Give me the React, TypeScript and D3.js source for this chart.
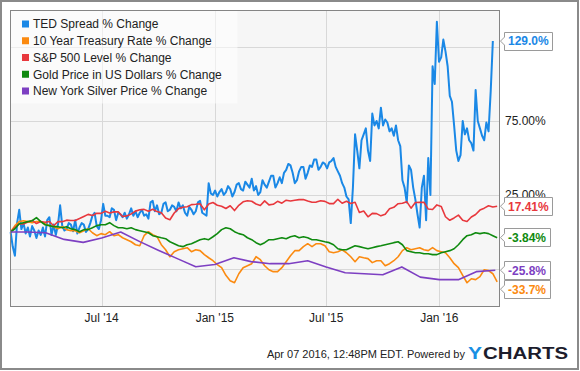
import React, { useEffect, useRef } from 'react';
import * as d3 from 'd3';

// weekly readings, first week starts Mon Feb 3 2014
const weekStart = new Date(2014, 1, 3);

// TED spread read twice a week (every 3.5 days) because it is so jumpy
const tedSpread = [
  0, -10, -16, 6, 15, 2, 6, -1, 3, -3,
  4, 1, -4, 1, -2, 3, -3, 8, 10, -2,
  5, -2, 5, 18, 4, 1, 2, 6, 5, 0.5,
  8, -1, 3, 6, 5, 0, 2, 6, 11, 13,
  4, 2, 8, 19, 11, 11, 10, 16, 15, 8,
  13, 12, 10, 13, 9, 12, 16, 11, 14, 10,
  13, 15, 11, 12, 9, 20, 21, 14, 18, 12,
  13, 19, 20, 14, 15, 18, 17, 14, 20, 16,
  18, 13, 11, 17, 15, 12, 14, 20, 21, 13,
  12, 11, 33, 26, 25, 28, 24, 27, 29, 25,
  27, 31, 29, 24, 27, 32, 33, 29, 28, 34,
  32, 30, 36, 28, 31, 25, 27, 35, 32, 30,
  34, 38, 38, 30, 33, 37, 33, 40, 42, 46,
  45, 40, 33, 35, 41, 44, 44, 36, 40, 45,
  44, 49, 49, 42, 44, 47, 46, 43, 47, 48,
  50, 44, 41, 38, 33, 30, 24, 22, 6, 30,
  66, 55, 43, 62, 66, 70, 55, 48, 80, 72,
  75, 70, 84, 72, 76, 74, 68, 70, 65, 72,
  62, 58, 35, 30, 20, 45, 42, 30, 22, 12,
  3, 30, 38, 8, 50, 25, 112, 100, 142, 115,
  118, 130, 122, 112, 92, 88, 72, 55, 48, 52,
  75, 66, 70, 62, 60, 55, 96, 75, 70, 65,
  62, 74, 68, 95, 129.0,
];

const treasury10y = [
  0, 4.3, 7.0, 7.6, 7.0, 6.3, 7.0, 7.0, 5.6, 4.3,
  3.6, 2.2, 3.6, 1.6, 0.9, 0.9, -0.5, 0.9, 2.2, -0.5,
  -2.5, -1.1, -1.8, 0.2, -2.5, -1.8, -3.9, -5.2, -6.6, -8.6,
  -9.3, -2.5, 0.2, -1.8, -3.2, -8.6, -12.0, -16.7, -13.3, -12.0,
  -11.3, -10.6, -13.3, -12.0, -12.6, -15.3, -17.4, -19.4, -22.1, -24.1,
  -29.3, -32.9, -34.3, -28.2, -24.1, -22.8, -21.4, -16.7, -18.7, -22.8,
  -25.5, -26.8, -26.8, -24.1, -20.1, -16.0, -12.6, -12.6, -9.9, -7.9,
  -9.9, -7.9, -7.9, -9.3, -13.3, -14.0, -13.3, -12.0, -14.0, -16.7,
  -20.1, -16.7, -17.4, -18.0, -20.7, -19.4, -19.4, -22.8, -21.4, -19.4,
  -16.7, -12.6, -10.6, -12.0, -11.3, -10.6, -12.0, -12.6, -10.6, -12.6,
  -13.3, -14.0, -17.4, -21.4, -24.1, -29.3, -34.3, -31.6, -32.2, -30.2,
  -25.5, -26.1, -28.2, -33.7,
];

const sp500 = [
  0, 3.2, 5.5, 5.4, 6.7, 7.8, 5.7, 7.1, 6.6, 7.1,
  4.2, 7.0, 7.0, 8.0, 7.8, 7.8, 9.1, 10.5, 11.9, 11.1,
  12.7, 12.6, 14.0, 12.9, 13.6, 13.6, 10.5, 10.9, 12.2, 14.1,
  15.0, 15.3, 14.0, 15.4, 13.8, 13.0, 9.4, 8.3, 12.8, 15.8,
  16.7, 17.1, 18.5, 18.7, 19.1, 15.0, 18.9, 19.9, 18.1, 17.4,
  15.9, 17.7, 14.5, 18.0, 20.4, 21.1, 20.8, 18.9, 17.9, 21.0,
  18.3, 18.7, 20.7, 19.5, 21.5, 21.0, 21.5, 21.9, 22.0, 21.0,
  20.1, 20.2, 21.1, 20.7, 19.2, 19.2, 22.1, 19.4, 20.8, 19.3,
  20.1, 13.2, 14.2, 10.3, 12.6, 12.4, 10.9, 12.0, 15.7, 16.7,
  19.1, 19.4, 20.5, 16.1, 19.9, 20.0, 20.1, 15.5, 15.2, 18.3,
  17.3, 10.3, 7.9, 9.5, 11.4, 7.9, 7.1, 10.1, 11.8, 14.8,
  16.1, 17.7, 16.9, 17.41,
];

const gold = [
  0, 2.2, 5.6, 6.3, 7.0, 7.6, 9.7, 7.0, 4.9, 4.3,
  3.6, 3.6, 2.9, 3.6, 2.2, 1.6, 0.2, 1.6, 1.6, 2.9,
  4.3, 4.9, 4.9, 6.3, 4.3, 2.9, 2.9, 2.2, 2.9, 1.6,
  0.9, 0.2, -0.5, -2.5, -3.2, -3.9, -4.5, -6.6, -7.9, -9.3,
  -9.9, -8.6, -7.9, -6.6, -5.2, -4.5, -5.2, -3.2, -1.1, 1.6,
  2.9, 2.2, 0.2, -1.1, -1.8, -3.9, -5.2, -7.2, -8.6, -7.2,
  -5.2, -5.2, -4.5, -3.9, -4.5, -3.2, -2.5, -3.9, -3.2, -3.9,
  -5.2, -5.2, -5.9, -6.6, -7.2, -8.6, -11.3, -12.0, -12.0, -10.6,
  -9.3, -9.9, -10.6, -11.3, -10.6, -9.9, -9.3, -8.6, -7.9, -7.2,
  -6.6, -8.6, -12.6, -13.3, -14.0, -14.0, -14.7, -14.7, -15.3, -15.3,
  -14.0, -13.3, -12.6, -11.3, -8.6, -5.2, -2.5, -1.8, -0.5, -1.1,
  -0.5, -1.1, -2.5, -3.84,
];

// silver is monthly
const silverDates = [
  '2014-02-03', '2014-03-01', '2014-04-01', '2014-05-01', '2014-06-01', '2014-07-01',
  '2014-08-01', '2014-09-01', '2014-10-01', '2014-11-01', '2014-12-01', '2015-01-01',
  '2015-02-01', '2015-03-01', '2015-04-01', '2015-05-01', '2015-06-01', '2015-07-01',
  '2015-08-01', '2015-09-01', '2015-10-01', '2015-11-01', '2015-12-01', '2016-01-01',
  '2016-02-01', '2016-03-01', '2016-04-01',
];
const silver = [
  0, 0, -0.5, -5, -7, -4,
  0, -6.5, -12.3, -18, -23.5, -22,
  -17.4, -20, -21.4, -21.4, -19.4, -23.6,
  -27.5, -28.2, -28.9, -23.6, -30.5, -32.2,
  -32.2, -26.8, -25.8,
];

const seriesNames = [
  'TED Spread % Change',
  '10 Year Treasury Rate % Change',
  'S&P 500 Level % Change',
  'Gold Price in US Dollars % Change',
  'New York Silver Price % Change',
];
const seriesColors = ['#1a88e6', '#fb8a10', '#e8383d', '#0f8a0f', '#7d3fc2'];
const lastLabels = ['129.0%', '-33.7%', '17.41%', '-3.84%', '-25.8%'];

const yTicks = [-25, 25, 75, 125];
const xTicks = ['2014-07-01', '2015-01-01', '2015-07-01', '2016-01-01'];
const xTickLabels = ["Jul '14", "Jan '15", "Jul '15", "Jan '16"];

const parse = d3.timeParse('%Y-%m-%d');
const FONT = '"Liberation Sans", Arial, Helvetica, sans-serif';

export default function App() {
  const ref = useRef<SVGSVGElement>(null);

  useEffect(() => {
    drawChart();
  }, []);

  function drawChart() {
    const svg = d3.select(ref.current);
    svg.selectAll('*').remove();

    const left = 10, right = 499, top = 10, bottom = 306;

    const x = d3.scaleTime()
      .domain([new Date(2014, 1, 2), new Date(2016, 3, 7)])
      .range([left, right]);
    const y = d3.scaleLinear().domain([-50, 150]).range([bottom, top]);

    const stepped = (vals: number[], hours: number) =>
      vals.map((v, i) => ({ date: d3.timeHour.offset(weekStart, hours * i), value: v }));

    const series = [
      stepped(tedSpread, 84),
      stepped(treasury10y, 168),
      stepped(sp500, 168),
      stepped(gold, 168),
      silver.map((v, i) => ({ date: parse(silverDates[i]) as Date, value: v })),
    ];

    // outer frame
    svg.append('rect')
      .attr('x', 1).attr('y', 1).attr('width', 577).attr('height', 368)
      .attr('fill', '#fff').attr('stroke', '#8a8a8a').attr('stroke-width', 2);

    // plot background
    svg.append('rect')
      .attr('x', left).attr('y', top).attr('width', right - left).attr('height', bottom - top)
      .attr('fill', '#f6f6f6');

    // grid
    svg.append('g').selectAll('line').data(yTicks).enter().append('line')
      .attr('x1', left).attr('x2', right)
      .attr('y1', (d) => Math.round(y(d)) + 0.5).attr('y2', (d) => Math.round(y(d)) + 0.5)
      .attr('stroke', '#d8d8d8');
    svg.append('g').selectAll('line').data(xTicks).enter().append('line')
      .attr('x1', (d) => Math.round(x(parse(d) as Date)) + 0.5)
      .attr('x2', (d) => Math.round(x(parse(d) as Date)) + 0.5)
      .attr('y1', top).attr('y2', bottom)
      .attr('stroke', '#d8d8d8');

    // legend background (semi transparent)
    svg.append('rect')
      .attr('x', left + 0.5).attr('y', top + 0.5).attr('width', 227).attr('height', 93)
      .attr('fill', 'rgba(255,255,255,0.55)');

    // lines
    const line = d3.line<{ date: Date; value: number }>()
      .x((d) => x(d.date))
      .y((d) => y(d.value));

    series.forEach((pts, i) => {
      svg.append('path')
        .datum(pts)
        .attr('d', line)
        .attr('fill', 'none')
        .attr('stroke', seriesColors[i])
        .attr('stroke-width', i === 0 ? 2 : 1.6)
        .attr('stroke-linejoin', 'round');
    });

    // plot border
    svg.append('rect')
      .attr('x', left + 0.5).attr('y', top + 0.5)
      .attr('width', right - left).attr('height', bottom - top)
      .attr('fill', 'none').attr('stroke', '#858585');

    // legend
    const legend = svg.append('g').selectAll('g').data(seriesNames).enter().append('g')
      .attr('transform', (_, i) => `translate(22, ${24 + i * 16.75})`);
    legend.append('rect')
      .attr('x', 0).attr('y', -3.5).attr('width', 7).attr('height', 7)
      .attr('fill', (_, i) => seriesColors[i]);
    legend.append('text')
      .attr('x', 11).attr('dy', '0.36em')
      .style('font-family', FONT).style('font-size', '12px').style('fill', '#222')
      .text((d) => d);

    // value callouts, pushed apart so they don't overlap
    const boxH = 19;
    const callouts = series.map((pts, i) => ({
      i, label: lastLabels[i], cy: y(pts[pts.length - 1].value),
    })).sort((a, b) => a.cy - b.cy);
    for (let k = 1; k < callouts.length; k++) {
      if (callouts[k].cy - callouts[k - 1].cy < boxH) callouts[k].cy = callouts[k - 1].cy + boxH;
    }

    // y tick labels (hidden where a callout sits on top of them)
    svg.append('g').selectAll('text')
      .data(yTicks.filter((t) => !callouts.some((c) => Math.abs(c.cy - y(t)) < 9)))
      .enter().append('text')
      .attr('x', right + 6).attr('y', (d) => y(d)).attr('dy', '0.36em')
      .style('font-family', FONT).style('font-size', '12px').style('fill', '#222')
      .text((d) => d3.format('.2f')(d) + '%');

    const cg = svg.append('g').selectAll('g').data(callouts).enter().append('g');
    cg.each(function (c) {
      const g = d3.select(this);
      const path = g.append('path');
      const t = g.append('text')
        .attr('x', right + 9).attr('y', c.cy).attr('dy', '0.36em')
        .style('font-family', FONT).style('font-size', '12px').style('font-weight', 'bold')
        .style('fill', seriesColors[c.i])
        .text(c.label);
      const w = (t.node() as SVGTextElement).getComputedTextLength();
      const bx = right + 5.5, tip = right + 1.5;
      const t0 = Math.round(c.cy - boxH / 2) + 0.5, b0 = t0 + boxH - 1;
      const rx = Math.round(bx + w + 7) + 0.5;
      path.attr('d', `M${tip},${c.cy} L${bx},${c.cy - 4} L${bx},${t0} L${rx},${t0} L${rx},${b0} L${bx},${b0} L${bx},${c.cy + 4} Z`)
        .attr('fill', '#fff').attr('stroke', '#9a9a9a');
    });

    // x axis labels
    svg.append('g').selectAll('text').data(xTicks).enter().append('text')
      .attr('x', (d) => x(parse(d) as Date)).attr('y', 318).attr('dy', '0.36em')
      .attr('text-anchor', 'middle')
      .style('font-family', FONT).style('font-size', '12px').style('fill', '#222')
      .text((_, i) => xTickLabels[i]);

    // footer
    svg.append('text')
      .attr('x', 465).attr('y', 358).attr('text-anchor', 'end')
      .style('font-family', FONT).style('font-size', '11px').style('fill', '#222')
      .text('Apr 07 2016, 12:48PM EDT.  Powered by');
    svg.append('text')
      .attr('x', 468).attr('y', 358.5)
      .attr('textLength', 14).attr('lengthAdjust', 'spacingAndGlyphs')
      .style('font-family', FONT).style('font-size', '16px').style('font-weight', 'bold')
      .style('fill', '#1a8fe3')
      .text('Y');
    svg.append('text')
      .attr('x', 483).attr('y', 358.5)
      .attr('textLength', 85).attr('lengthAdjust', 'spacingAndGlyphs')
      .style('font-family', FONT).style('font-size', '16px').style('font-weight', 'bold')
      .style('fill', '#1c1c2c')
      .text('CHARTS');
  }

  return (
    <svg
      ref={ref}
      width={580}
      height={371}
      style={{ position: 'absolute', left: 0, top: 0, display: 'block' }}
    />
  );
}
